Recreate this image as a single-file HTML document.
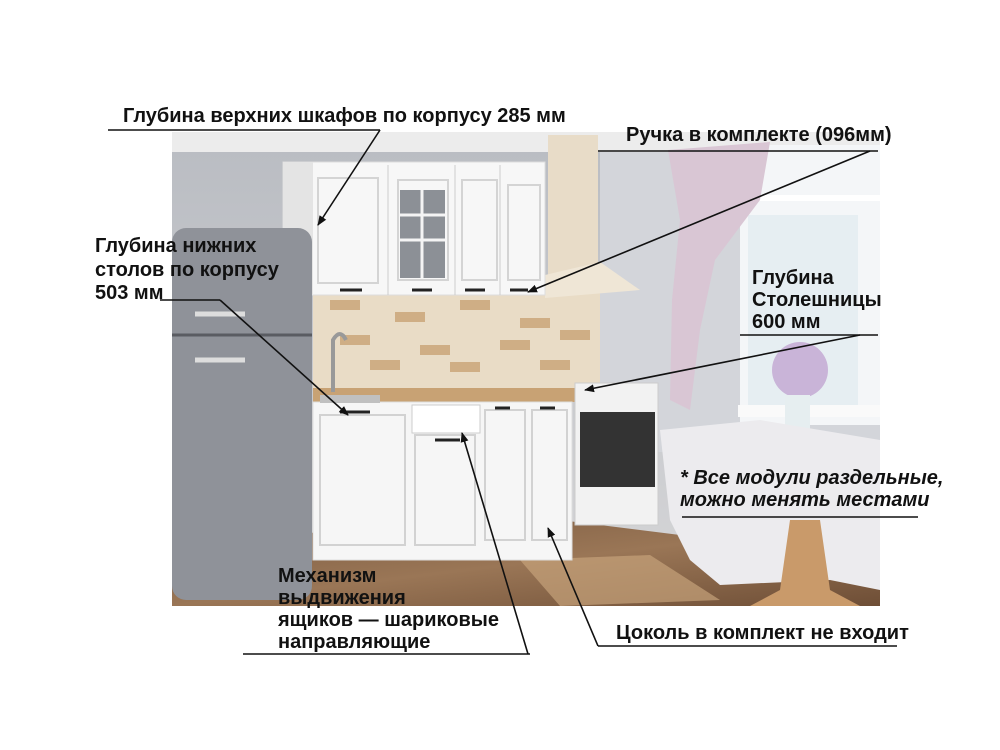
<!DOCTYPE html>
<html><head><meta charset="utf-8"><style>
html,body{margin:0;padding:0;background:#fff;}
svg{display:block}
text{font-family:"Liberation Sans","DejaVu Sans",sans-serif;font-weight:bold;fill:#111;font-size:20px}
</style></head><body>
<svg width="1000" height="750" viewBox="0 0 1000 750" xmlns="http://www.w3.org/2000/svg">
<defs>
<marker id="a" markerWidth="10" markerHeight="10" refX="9" refY="5" orient="auto" markerUnits="userSpaceOnUse">
<path d="M0,1 L10,5 L0,9 Z" fill="#111"/></marker>
<linearGradient id="wall" x1="0" y1="0" x2="0" y2="1"><stop offset="0" stop-color="#b9bcc2"/><stop offset="1" stop-color="#d6d6d8"/></linearGradient>
<linearGradient id="floor" x1="0" y1="0" x2="1" y2="1"><stop offset="0" stop-color="#7a5a40"/><stop offset="0.5" stop-color="#9a7656"/><stop offset="1" stop-color="#6e4e36"/></linearGradient>
</defs>
<rect x="172" y="132" width="708" height="474" fill="url(#wall)"/>
<rect x="172" y="132" width="708" height="20" fill="#ececec"/>
<polygon points="172,540 560,520 880,560 880,606 172,606" fill="url(#floor)"/>
<polygon points="520,560 650,555 720,600 560,606" fill="#c6a27a" opacity="0.7"/>
<rect x="313" y="292" width="290" height="100" fill="#e9dcc6"/>
<g fill="#cfae85">
<rect x="330" y="300" width="30" height="10"/><rect x="395" y="312" width="30" height="10"/><rect x="460" y="300" width="30" height="10"/><rect x="520" y="318" width="30" height="10"/><rect x="340" y="335" width="30" height="10"/><rect x="420" y="345" width="30" height="10"/><rect x="500" y="340" width="30" height="10"/><rect x="560" y="330" width="30" height="10"/><rect x="450" y="362" width="30" height="10"/><rect x="540" y="360" width="30" height="10"/><rect x="370" y="360" width="30" height="10"/>
</g>
<rect x="600" y="152" width="280" height="300" fill="#d3d5da"/>
<rect x="740" y="145" width="140" height="280" fill="#f4f6f8"/>
<rect x="748" y="215" width="110" height="190" fill="#e6eef2"/>
<rect x="740" y="195" width="140" height="6" fill="#fff"/>
<rect x="738" y="405" width="142" height="12" fill="#fafafa"/>
<polygon points="668,150 770,142 760,200 715,260 700,330 690,410 670,400 672,300 680,220" fill="#d9c6d4"/>
<rect x="548" y="135" width="50" height="140" fill="#e8dcc8"/>
<polygon points="545,275 600,262 640,290 545,298" fill="#efe6d6"/>
<rect x="283" y="162" width="262" height="133" fill="#f7f7f7" stroke="#ddd"/>
<rect x="283" y="162" width="30" height="133" fill="#e4e4e4"/>
<g fill="none" stroke="#d4d4d4" stroke-width="2">
<rect x="318" y="178" width="60" height="105"/><rect x="398" y="180" width="50" height="100"/><rect x="462" y="180" width="35" height="100"/><rect x="508" y="185" width="32" height="95"/>
</g>
<g stroke="#ccc"><line x1="388" y1="165" x2="388" y2="295"/><line x1="455" y1="165" x2="455" y2="295"/><line x1="500" y1="165" x2="500" y2="295"/></g>
<rect x="400" y="190" width="45" height="88" fill="#8c9096"/>
<g stroke="#f4f4f4" stroke-width="3"><line x1="422" y1="190" x2="422" y2="278"/><line x1="400" y1="215" x2="445" y2="215"/><line x1="400" y1="240" x2="445" y2="240"/></g>
<g stroke="#222" stroke-width="3"><line x1="340" y1="290" x2="362" y2="290"/><line x1="412" y1="290" x2="432" y2="290"/><line x1="465" y1="290" x2="485" y2="290"/><line x1="510" y1="290" x2="528" y2="290"/></g>
<rect x="313" y="388" width="265" height="14" fill="#c8a274"/>
<rect x="313" y="402" width="259" height="158" fill="#f6f6f6" stroke="#ddd"/>
<g fill="none" stroke="#d2d2d2" stroke-width="2"><rect x="320" y="415" width="85" height="130"/><rect x="415" y="435" width="60" height="110"/><rect x="485" y="410" width="40" height="130"/><rect x="532" y="410" width="35" height="130"/></g>
<rect x="412" y="405" width="68" height="28" fill="#fff" stroke="#ccc"/>
<g stroke="#222" stroke-width="3"><line x1="340" y1="412" x2="370" y2="412"/><line x1="435" y1="440" x2="460" y2="440"/><line x1="495" y1="408" x2="510" y2="408"/><line x1="540" y1="408" x2="555" y2="408"/></g>
<rect x="320" y="395" width="60" height="8" fill="#c0c0c0"/>
<path d="M333,392 L333,340 Q340,328 346,340" stroke="#999" stroke-width="4" fill="none"/>
<rect x="575" y="383" width="83" height="142" fill="#f2f2f2" stroke="#ccc"/>
<rect x="580" y="412" width="75" height="75" fill="#333"/>
<rect x="172" y="228" width="140" height="372" rx="14" fill="#8f9299"/>
<line x1="172" y1="335" x2="312" y2="335" stroke="#5a5c62" stroke-width="3"/>
<g stroke="#ddd" stroke-width="5"><line x1="195" y1="314" x2="245" y2="314"/><line x1="195" y1="360" x2="245" y2="360"/></g>
<circle cx="800" cy="370" r="28" fill="#c9b4d8"/>
<rect x="785" y="395" width="25" height="40" fill="#e6eef0"/>
<polygon points="660,430 760,420 880,440 880,590 830,580 720,585 690,560 670,520" fill="#ecebee"/>
<polygon points="790,520 820,520 830,590 860,606 750,606 780,590" fill="#c99a6a"/>
<g stroke="#111" stroke-width="1.6" fill="none">
<line x1="108" y1="130" x2="380" y2="130"/><line x1="380" y1="130" x2="318" y2="225" marker-end="url(#a)"/>
<line x1="598" y1="151" x2="878" y2="151"/><line x1="870" y1="151" x2="528" y2="292" marker-end="url(#a)"/>
<line x1="160" y1="300" x2="220" y2="300"/><line x1="220" y1="300" x2="348" y2="415" marker-end="url(#a)"/>
<line x1="740" y1="335" x2="878" y2="335"/><line x1="860" y1="335" x2="585" y2="390" marker-end="url(#a)"/>
<line x1="682" y1="517" x2="918" y2="517"/>
<line x1="243" y1="654" x2="530" y2="654"/><line x1="528" y1="654" x2="462" y2="433" marker-end="url(#a)"/>
<line x1="598" y1="646" x2="897" y2="646"/><line x1="598" y1="646" x2="548" y2="528" marker-end="url(#a)"/>
</g>
<text x="123" y="122">Глубина верхних шкафов по корпусу 285 мм</text>
<text x="626" y="141">Ручка в комплекте (096мм)</text>
<text x="95" y="252">Глубина нижних</text>
<text x="95" y="276">столов по корпусу</text>
<text x="95" y="299">503 мм</text>
<text x="752" y="284">Глубина</text>
<text x="752" y="306">Столешницы</text>
<text x="752" y="328"> 600 мм</text>
<text x="680" y="484" font-style="italic">* Все модули раздельные,</text>
<text x="680" y="506" font-style="italic">можно менять местами</text>
<text x="278" y="582">Механизм</text>
<text x="278" y="604">выдвижения</text>
<text x="278" y="626">ящиков — шариковые</text>
<text x="278" y="648">направляющие</text>
<text x="616" y="639">Цоколь в комплект не входит</text>
</svg>
</body></html>
